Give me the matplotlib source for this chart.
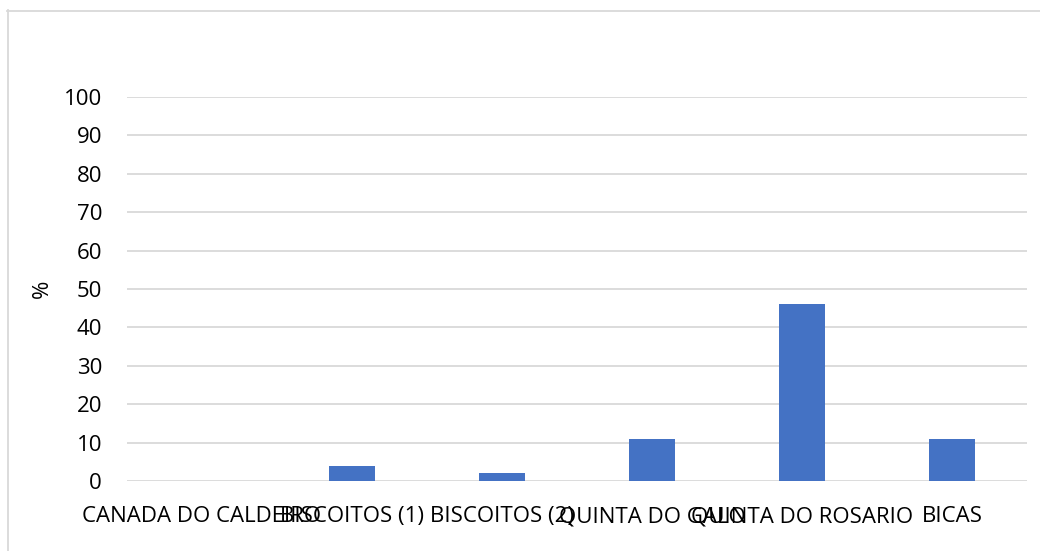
import matplotlib
matplotlib.use("Agg")
import matplotlib.pyplot as plt
from matplotlib.lines import Line2D

categories = ["CANADA DO CALDEIRO", "BISCOITOS (1)", "BISCOITOS (2)",
              "QUINTA DO GALO", "QUINTA DO ROSARIO", "BICAS"]
values = [0, 4, 2, 11, 46, 11]
yticks = [0, 10, 20, 30, 40, 50, 60, 70, 80, 90, 100]

plt.rcParams['font.family'] = ['Open Sans', 'DejaVu Sans']

W, H = 1040, 551
fig = plt.figure(figsize=(W / 100, H / 100), dpi=100)
fig.patch.set_facecolor("white")

ax = fig.add_axes([127 / W, 1 - 481 / H, 900 / W, (481 - 97) / H])
x = list(range(len(categories)))
ax.bar(x, values, width=0.31, color="#4472C4", zorder=3)
ax.set_xlim(-0.5, len(categories) - 0.5)
ax.set_ylim(0, 100)
ax.set_yticks(yticks)
ax.set_xticks(x)
ax.set_xticklabels(categories)
for s in ax.spines.values():
    s.set_visible(False)
ax.grid(axis="y", color="#D9D9D9", linewidth=1.3, zorder=0)
ax.tick_params(axis="both", length=0, labelsize=16, colors="#000000")
ax.tick_params(axis="y", pad=18)
ax.tick_params(axis="x", pad=18)
ax.set_ylabel("%", fontsize=16, labelpad=8)

# outer chart frame
fig.add_artist(Line2D([7.5 / W, 7.5 / W], [0, 1 - 10 / H], transform=fig.transFigure,
                      color="#D9D9D9", linewidth=1.3))
fig.add_artist(Line2D([7 / W, 1], [1 - 10.5 / H, 1 - 10.5 / H], transform=fig.transFigure,
                      color="#D9D9D9", linewidth=1.3))

fig.savefig("out.png", dpi=100, facecolor="white")
